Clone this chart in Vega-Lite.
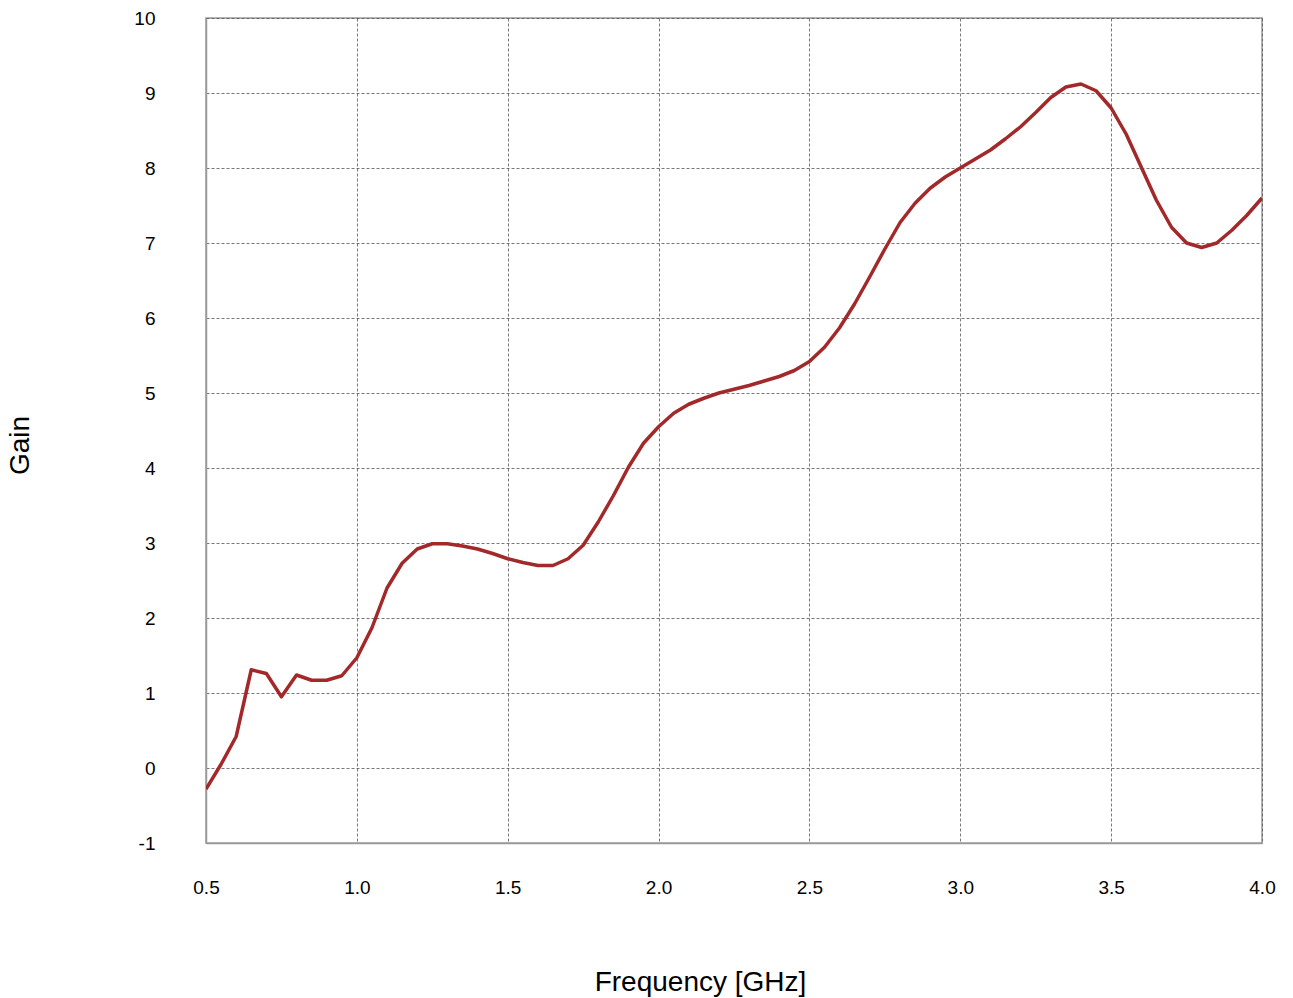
{
  "$schema": "https://vega.github.io/schema/vega-lite/v6.json",
  "autosize": {"type": "none"},
  "width": 1056,
  "height": 825,
  "padding": {"left": 206, "top": 18, "right": 31, "bottom": 155},
  "background": "white",
  "config": {
    "font": "Liberation Sans",
    "view": {"stroke": "#9a9a9a", "strokeWidth": 1.5}
  },
  "data": {
    "values": [
      {"f": 0.5, "gain": -0.28}, {"f": 0.55, "gain": 0.05}, {"f": 0.6, "gain": 0.42},
      {"f": 0.65, "gain": 1.31}, {"f": 0.7, "gain": 1.26}, {"f": 0.75, "gain": 0.95},
      {"f": 0.8, "gain": 1.24}, {"f": 0.85, "gain": 1.17}, {"f": 0.9, "gain": 1.17},
      {"f": 0.95, "gain": 1.23}, {"f": 1.0, "gain": 1.47}, {"f": 1.05, "gain": 1.87},
      {"f": 1.1, "gain": 2.4}, {"f": 1.15, "gain": 2.73}, {"f": 1.2, "gain": 2.92},
      {"f": 1.25, "gain": 2.99}, {"f": 1.3, "gain": 2.99}, {"f": 1.35, "gain": 2.96},
      {"f": 1.4, "gain": 2.92}, {"f": 1.45, "gain": 2.86}, {"f": 1.5, "gain": 2.79},
      {"f": 1.55, "gain": 2.74}, {"f": 1.6, "gain": 2.7}, {"f": 1.65, "gain": 2.7},
      {"f": 1.7, "gain": 2.79}, {"f": 1.75, "gain": 2.97}, {"f": 1.8, "gain": 3.28},
      {"f": 1.85, "gain": 3.63}, {"f": 1.9, "gain": 4.01}, {"f": 1.95, "gain": 4.33},
      {"f": 2.0, "gain": 4.55}, {"f": 2.05, "gain": 4.73}, {"f": 2.1, "gain": 4.85},
      {"f": 2.15, "gain": 4.93}, {"f": 2.2, "gain": 5.0}, {"f": 2.25, "gain": 5.05},
      {"f": 2.3, "gain": 5.1}, {"f": 2.35, "gain": 5.16}, {"f": 2.4, "gain": 5.22},
      {"f": 2.45, "gain": 5.3}, {"f": 2.5, "gain": 5.42}, {"f": 2.55, "gain": 5.61},
      {"f": 2.6, "gain": 5.87}, {"f": 2.65, "gain": 6.19}, {"f": 2.7, "gain": 6.55},
      {"f": 2.75, "gain": 6.92}, {"f": 2.8, "gain": 7.27}, {"f": 2.85, "gain": 7.53},
      {"f": 2.9, "gain": 7.73}, {"f": 2.95, "gain": 7.88}, {"f": 3.0, "gain": 8.0},
      {"f": 3.05, "gain": 8.12}, {"f": 3.1, "gain": 8.24}, {"f": 3.15, "gain": 8.39},
      {"f": 3.2, "gain": 8.55}, {"f": 3.25, "gain": 8.74}, {"f": 3.3, "gain": 8.94},
      {"f": 3.35, "gain": 9.08}, {"f": 3.4, "gain": 9.12}, {"f": 3.45, "gain": 9.03},
      {"f": 3.5, "gain": 8.8}, {"f": 3.55, "gain": 8.45}, {"f": 3.6, "gain": 8.01},
      {"f": 3.65, "gain": 7.57}, {"f": 3.7, "gain": 7.21}, {"f": 3.75, "gain": 7.0},
      {"f": 3.8, "gain": 6.94}, {"f": 3.85, "gain": 7.0}, {"f": 3.9, "gain": 7.17},
      {"f": 3.95, "gain": 7.37}, {"f": 4.0, "gain": 7.6}
    ]
  },
  "mark": {"type": "line", "color": "#a3282a", "strokeWidth": 3.5, "strokeJoin": "round", "clip": true},
  "encoding": {
    "x": {
      "field": "f",
      "type": "quantitative",
      "scale": {"domain": [0.5, 4.0], "nice": false, "zero": false},
      "axis": {
        "values": [0.5, 1.0, 1.5, 2.0, 2.5, 3.0, 3.5, 4.0],
        "format": ".1f",
        "labelFlush": false,
        "title": "Frequency [GHz]",
        "titleFont": "Liberation Sans",
        "titleFontSize": 28,
        "titleFontWeight": "normal",
        "titleColor": "#000000",
        "titleX": 494,
        "titleY": 139,
        "titleBaseline": "middle",
        "titleAlign": "center",
        "labelFont": "Liberation Sans",
        "labelFontSize": 19,
        "labelColor": "#000000",
        "labelPadding": 35,
        "ticks": false,
        "domainColor": "#9a9a9a",
        "domainWidth": 1.5,
        "grid": true,
        "gridColor": "#555555",
        "gridDash": [3, 2],
        "gridWidth": 0.8
      }
    },
    "y": {
      "field": "gain",
      "type": "quantitative",
      "scale": {"domain": [-1, 10], "nice": false, "zero": false},
      "axis": {
        "values": [-1, 0, 1, 2, 3, 4, 5, 6, 7, 8, 9, 10],
        "labelExpr": "toString(datum.value)",
        "labelFlush": false,
        "title": "Gain",
        "titleFont": "Liberation Sans",
        "titleFontSize": 28,
        "titleFontWeight": "normal",
        "titleColor": "#000000",
        "titleAngle": -90,
        "titleX": -186,
        "titleY": 427,
        "titleBaseline": "middle",
        "titleAlign": "center",
        "labelFont": "Liberation Sans",
        "labelFontSize": 19,
        "labelColor": "#000000",
        "labelPadding": 51,
        "ticks": false,
        "domainColor": "#9a9a9a",
        "domainWidth": 1.5,
        "grid": true,
        "gridColor": "#555555",
        "gridDash": [3, 2],
        "gridWidth": 0.8
      }
    }
  }
}
